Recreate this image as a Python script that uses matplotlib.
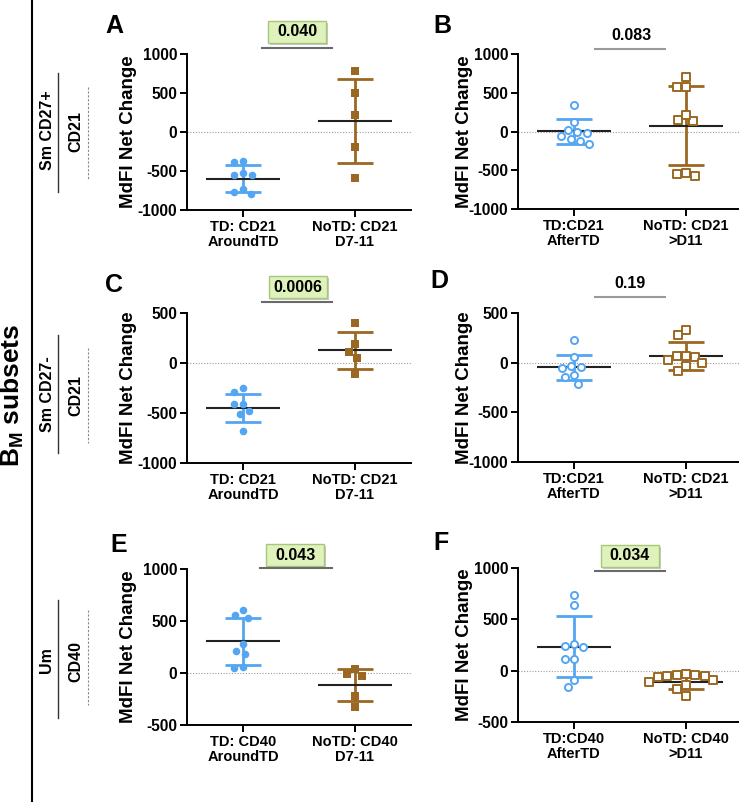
import numpy as np
import matplotlib
matplotlib.use('Agg')
import matplotlib.pyplot as plt
from matplotlib.lines import Line2D
from matplotlib.patches import Rectangle

plt.rcParams['font.family'] = ['Liberation Sans', 'DejaVu Sans']
plt.rcParams['font.weight'] = 'bold'
plt.rcParams['axes.labelweight'] = 'bold'
plt.rcParams['axes.unicode_minus'] = False
plt.rcParams['mathtext.fontset'] = 'custom'
plt.rcParams['mathtext.rm'] = 'Liberation Sans:bold'
plt.rcParams['mathtext.bf'] = 'Liberation Sans:bold'
plt.rcParams['mathtext.it'] = 'Liberation Sans:bold'

W, H = 739, 802
BLUE = '#55A6F2'
BROWN = '#9A6823'

# ---- data (MdFI net change) ----
a_td = [-390, -375, -550, -555, -525, -730, -800, -775]
a_notd = [777, 499, 212, -186, -593]
a_mean = [-597, 138]
a_sd = [169, 540]

b_td = [342, 118, -6, -19, 24, -97, -62, -157, -127]
b_notd = [699, 570, 574, 153, 140, 217, -535, -578, -548]
b_mean = [2, 75]
b_sd = [157, 512]

c_td = [-253, -293, -413, -407, -480, -513, -683]
c_notd = [403, 187, 110, 50, -107]
c_mean = [-450, 127]
c_sd = [138, 187]

d_td = [228, 54, -37, -53, -47, -127, -144, -215]
d_notd = [275, 332, 65, 60, 70, 25, -37, -5, -87]
d_mean = [-47, 67]
d_sd = [124, 139]

e_td = [560, 608, 528, 277, 216, 184, 52, 62]
e_notd = [36, -28, -12, -217, -327]
e_mean = [306, -115]
e_sd = [226, 157]

f_td = [741, 644, 260, 227, 243, 114, 114, -89, -161]
f_notd = [-45, -50, -95, -65, -55, -45, -35, -140, -180, -250, -110]
f_mean = [234, -106]
f_sd = [297, 74]

labels_around_21 = ['TD: CD21\nAroundTD', 'NoTD: CD21\nD7-11']
labels_after_21 = ['TD:CD21\nAfterTD', 'NoTD: CD21\n>D11']
labels_around_40 = ['TD: CD40\nAroundTD', 'NoTD: CD40\nD7-11']
labels_after_40 = ['TD:CD40\nAfterTD', 'NoTD: CD40\n>D11']

p_values = ['0.040', '0.083', '0.0006', '0.19', '0.043', '0.034']


def fx(px):
    return px / W


def fy(py):
    return 1 - py / H


def swarm_offsets(ax, vals, d=9.5):
    # simple beeswarm in pixel space
    vals = np.asarray(vals, float)
    ys = ax.transData.transform(np.column_stack([np.zeros(len(vals)), vals]))[:, 1]
    placed = []
    out = np.zeros(len(vals))
    for i in np.argsort(-vals):
        y = ys[i]
        cands = [0.0]
        for px, py in placed:
            dy = abs(y - py)
            if dy < d:
                dx = np.sqrt(d * d - dy * dy)
                cands += [px - dx, px + dx]
        cands.sort(key=lambda c: (abs(c), c))
        for c in cands:
            if all((c - px) ** 2 + (y - py) ** 2 >= d * d - 1e-6 for px, py in placed):
                out[i] = c
                placed.append((c, y))
                break
    unit = ax.transData.transform((1, 0))[0] - ax.transData.transform((0, 0))[0]
    return out / unit


def panel(rect, td, notd, means, sds, ylim, yticks, xlabels, filled, ylab_x):
    ax = fig.add_axes(rect)
    ax.set_xlim(-0.5, 1.5)
    ax.set_ylim(*ylim)
    ax.set_yticks(yticks)
    ax.set_yticklabels([str(t) for t in yticks], fontsize=11.2, fontweight='bold')
    ax.set_xticks([0, 1])
    ax.set_xticklabels(xlabels, fontsize=10.5, linespacing=1.1, fontweight='bold')
    ax.tick_params(axis='y', length=5, width=1.4, pad=2)
    ax.tick_params(axis='x', length=5, width=1.4, pad=2)
    for s in ['top', 'right']:
        ax.spines[s].set_visible(False)
    for s in ['left', 'bottom']:
        ax.spines[s].set_linewidth(1.4)
    ax.set_ylabel('MdFI Net Change', fontsize=13.5, fontweight='bold')
    ax.yaxis.set_label_coords(ylab_x, 0.5)
    ax.axhline(0, color='#9a9a9a', lw=0.8, ls=(0, (1, 1.5)), zorder=1)

    for x, vals, col, mk in [(0, td, BLUE, 'o'), (1, notd, BROWN, 's')]:
        m, s = means[x], sds[x]
        ax.vlines(x, m - s, m + s, color=col, lw=2, zorder=2)
        ax.hlines([m - s, m + s], x - 0.165, x + 0.165, color=col, lw=2, zorder=2)
        ax.hlines(m, x - 0.33, x + 0.33, color='#222222', lw=1.5, zorder=3)
        off = swarm_offsets(ax, vals)
        if filled:
            ax.scatter(x + off, vals, s=30, marker=mk, color=col, zorder=4, linewidths=0)
        else:
            ax.scatter(x + off, vals, s=26, marker=mk, facecolors='white',
                       edgecolors=col, linewidths=1.4, zorder=4)
    return ax


def pval(text, cx, cy, boxed, line):
    x0, x1, ly = line
    if boxed:
        bx0, by0, bx1, by1 = cx - 29, cy - 11, cx + 29, cy + 11
        fig.add_artist(Rectangle((fx(bx0 + 2), fy(by1 + 2)), (bx1 - bx0) / W, (by1 - by0) / H,
                                 transform=fig.transFigure, fc='#c8c8c8', ec='none'))
        fig.add_artist(Rectangle((fx(bx0), fy(by1)), (bx1 - bx0) / W, (by1 - by0) / H,
                                 transform=fig.transFigure, fc='#E0F2BC', ec='#A6C87A', lw=1))
        fig.add_artist(Line2D([fx(x0), fx(x1)], [fy(ly), fy(ly)], transform=fig.transFigure,
                              color='#6a6a6a', lw=1.5))
    else:
        fig.add_artist(Line2D([fx(x0), fx(x1)], [fy(ly), fy(ly)], transform=fig.transFigure,
                              color='#9a9a9a', lw=1.5))
    fig.text(fx(cx), fy(cy), text, ha='center', va='center', fontsize=11.5, fontweight='bold')


fig = plt.figure(figsize=(W / 100, H / 100), dpi=100)

AW = 224 / W
panel([fx(187), fy(210), AW, 156 / H], a_td, a_notd, a_mean, a_sd, (-1000, 1000),
      [-1000, -500, 0, 500, 1000], labels_around_21, True, -0.225)
panel([fx(518), fy(209), AW, 155 / H], b_td, b_notd, b_mean, b_sd, (-1000, 1000),
      [-1000, -500, 0, 500, 1000], labels_after_21, False, -0.2)
panel([fx(187), fy(463), AW, 150 / H], c_td, c_notd, c_mean, c_sd, (-1000, 500),
      [-1000, -500, 0, 500], labels_around_21, True, -0.225)
panel([fx(518), fy(462), AW, 149 / H], d_td, d_notd, d_mean, d_sd, (-1000, 500),
      [-1000, -500, 0, 500], labels_after_21, False, -0.2)
panel([fx(187), fy(725), AW, 156 / H], e_td, e_notd, e_mean, e_sd, (-500, 1000),
      [-500, 0, 500, 1000], labels_around_40, True, -0.225)
panel([fx(518), fy(722), AW, 154 / H], f_td, f_notd, f_mean, f_sd, (-500, 1000),
      [-500, 0, 500, 1000], labels_after_40, False, -0.2)

# panel letters
for letter, px, py in [('A', 105, 33), ('B', 433, 33), ('C', 105, 292),
                        ('D', 430, 288), ('E', 110, 552), ('F', 433, 550)]:
    fig.text(fx(px), fy(py), letter, fontsize=18, ha='left', va='baseline', fontweight='bold')

# p values
pval(p_values[0], 297, 32, True, (262, 332, 48))
pval(p_values[1], 631, 35, False, (595, 665, 49))
pval(p_values[2], 298, 287, True, (262, 332, 302))
pval(p_values[3], 630, 283, False, (595, 665, 297))
pval(p_values[4], 295, 555, True, (260, 332, 568))
pval(p_values[5], 630, 556, True, (595, 665, 571))

# left side annotations
fig.add_artist(Line2D([fx(32), fx(32)], [0, 1], transform=fig.transFigure, color='black', lw=1.5))
fig.text(fx(12), fy(395), r'B$_\mathrm{M}$ subsets', rotation=90, ha='center', va='center',
         fontsize=19, fontweight='bold')
for top, sub, cy, seg, dseg in [('Sm CD27+', 'CD21', 130, (73, 192), (87, 180)),
                                ('Sm CD27-', 'CD21', 394, (335, 453), (348, 443)),
                                ('Um', 'CD40', 660, (600, 718), (610, 705))]:
    fig.text(fx(47), fy(cy), top, rotation=90, ha='center', va='center', fontsize=11.5,
             fontweight='bold')
    fig.text(fx(76), fy(cy + 2), sub, rotation=90, ha='center', va='center', fontsize=11.5,
             fontweight='bold')
    fig.add_artist(Line2D([fx(58), fx(58)], [fy(seg[0]), fy(seg[1])], transform=fig.transFigure,
                          color='#333333', lw=1))
    fig.add_artist(Line2D([fx(88), fx(88)], [fy(dseg[0]), fy(dseg[1])], transform=fig.transFigure,
                          color='#888888', lw=0.8, ls=(0, (2, 1.5))))

fig.savefig('out.png', dpi=100)
